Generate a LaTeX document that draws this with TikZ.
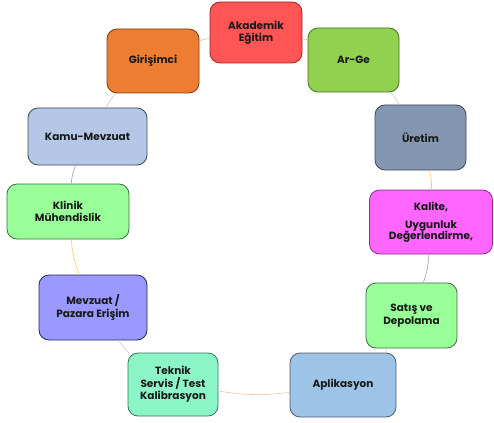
\documentclass[tikz,border=0pt]{standalone}
\usepackage{fontspec}
\setmainfont{Poppins}
\begin{document}
\tikzset{
  box/.style={draw, line width=0.8pt, rounded corners=10pt, align=center,
    font=\bfseries\fontsize{10.5}{12.5}\selectfont, text=black!90, inner sep=2pt},
  link/.style={line width=0.6pt, bend left=8}
}
\begin{tikzpicture}[x=1pt,y=-1pt]
  \useasboundingbox (0,0) rectangle (494,422);
  % ring of boxes
  \node[box, fill={rgb,255:red,255;green,85;blue,85}, draw={rgb,255:red,150;green,40;blue,40},
    minimum width=92, minimum height=61] (Akademik) at (256,32.5) {Akademik\\Eğitim};
  \node[box, fill={rgb,255:red,146;green,208;blue,80}, draw={rgb,255:red,70;green,110;blue,35},
    minimum width=91, minimum height=64] (ArGe) at (353.5,60) {Ar-Ge};
  \node[box, fill={rgb,255:red,132;green,151;blue,176}, draw={rgb,255:red,60;green,70;blue,90},
    minimum width=91, minimum height=65] (Uretim) at (420.5,137.5) {Üretim};
  \node[box, fill={rgb,255:red,255;green,102;blue,255}, draw={rgb,255:red,140;green,40;blue,140},
    minimum width=123, minimum height=64] (Kalite) at (431,222) {Kalite,\\[6pt]Uygunluk\\[-2pt]Değerlendirme,};
  \node[box, fill={rgb,255:red,153;green,255;blue,153}, draw={rgb,255:red,60;green,110;blue,60},
    minimum width=91, minimum height=65] (Satis) at (411.5,315.5) {Satış ve\\Depolama};
  \node[box, fill={rgb,255:red,157;green,195;blue,230}, draw={rgb,255:red,80;green,90;blue,110},
    minimum width=106, minimum height=64] (Aplikasyon) at (343,385) {Aplikasyon};
  \node[box, fill={rgb,255:red,140;green,245;blue,200}, draw={rgb,255:red,50;green,120;blue,90},
    minimum width=90, minimum height=63] (Teknik) at (173,384.5) {Teknik\\Servis / Test\\Kalibrasyon};
  \node[box, fill={rgb,255:red,153;green,153;blue,255}, draw={rgb,255:red,40;green,40;blue,90},
    minimum width=108, minimum height=65] (Mevzuat) at (93,307.5) {Mevzuat /\\Pazara Erişim};
  \node[box, fill={rgb,255:red,153;green,255;blue,153}, draw={rgb,255:red,60;green,110;blue,60},
    minimum width=122, minimum height=55] (Klinik) at (68,211.5) {Klinik\\Mühendislik};
  \node[box, fill={rgb,255:red,180;green,199;blue,231}, draw={rgb,255:red,60;green,70;blue,90},
    minimum width=119, minimum height=57] (Kamu) at (87.5,136.5) {Kamu-Mevzuat};
  \node[box, fill={rgb,255:red,237;green,125;blue,49}, draw={rgb,255:red,120;green,60;blue,20},
    minimum width=92, minimum height=64] (Girisimci) at (153,61) {Girişimci};
  % connectors
  \path (Akademik) edge[link, draw={rgb,255:red,225;green,190;blue,160}] (ArGe);
  \path (ArGe) edge[link, draw=black!20] (Uretim);
  \path (Uretim) edge[link, draw={rgb,255:red,240;green,205;blue,100}] (Kalite);
  \path (Kalite) edge[link, draw={rgb,255:red,140;green,160;blue,195}] (Satis);
  \path (Satis) edge[link, draw=black!20] (Aplikasyon);
  \path (Aplikasyon) edge[link, draw={rgb,255:red,240;green,195;blue,160}] (Teknik);
  \path (Teknik) edge[link, draw=black!20] (Mevzuat);
  \path (Mevzuat) edge[link, draw={rgb,255:red,240;green,210;blue,100}] (Klinik);
  \path (Klinik) edge[link, draw={rgb,255:red,150;green,160;blue,180}] (Kamu);
  \path (Kamu) edge[link, draw={rgb,255:red,200;green,205;blue,170}] (Girisimci);
  \path (Girisimci) edge[link, draw={rgb,255:red,225;green,190;blue,160}] (Akademik);
\end{tikzpicture}
\end{document}
